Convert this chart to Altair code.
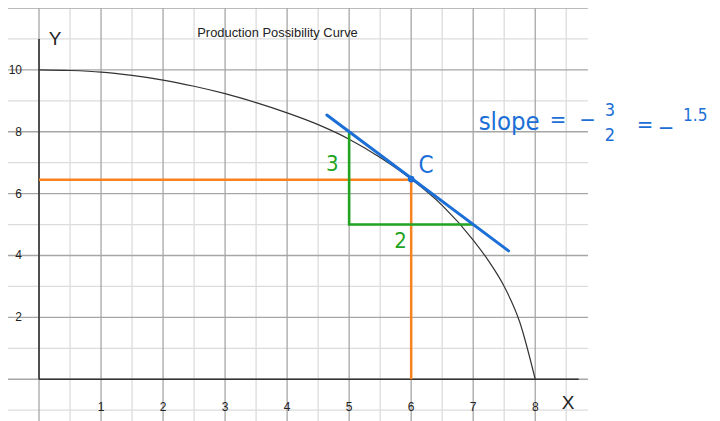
import altair as alt
import pandas as pd

# ---------------- data ----------------
curve_x = [0, 0.5, 1, 1.5, 2, 2.5, 3, 3.5, 4, 4.5, 5, 5.5, 6, 6.5, 7, 7.25, 7.5, 7.75, 8]
curve_y = [10, 9.98, 9.93, 9.82, 9.67, 9.47, 9.23, 8.94, 8.61, 8.23, 7.76, 7.17, 6.47, 5.62, 4.5, 3.82, 3.0, 1.85, 0]

x_ticks = [1, 2, 3, 4, 5, 6, 7, 8]
y_ticks = [2, 4, 6, 8, 10]

grid_major_x = [0, 1, 2, 3, 4, 5, 6, 7, 8]
grid_minor_x = [0.5, 1.5, 2.5, 3.5, 4.5, 5.5, 6.5, 7.5, 8.5]
grid_major_y = [0, 2, 4, 6, 8, 10, 12]
grid_minor_y = [-1, 1, 3, 5, 7, 9, 11]
grid_x_start = -0.5
grid_x_end = 8.85

axis_x_end = 8.7
axis_y_end = 11

point_c = (6, 6.47)
orange_x = [0, 6, 6]
orange_y = [6.45, 6.45, 0]
green_x = [5, 5, 7]
green_y = [8, 5, 5]
tangent_x = [4.64, 7.57]
tangent_y = [8.54, 4.15]

title_text = "Production Possibility Curve"

# ---------------- scales ----------------
xs = alt.Scale(domain=[-0.5, 10.85], nice=False, zero=False)
ys = alt.Scale(domain=[-1.35, 12], nice=False, zero=False)


def X(f):
    return alt.X(f, type="quantitative", scale=xs, axis=None)


def Y(f):
    return alt.Y(f, type="quantitative", scale=ys, axis=None)


MAJOR = "#a6a6a6"
MINOR = "#dcdcdc"

layers = []

# grid
layers.append(alt.Chart(pd.DataFrame({"x": grid_minor_x})).mark_rule(color=MINOR, strokeWidth=1.3).encode(x=X("x")))
layers.append(alt.Chart(pd.DataFrame({"y": grid_minor_y, "x0": grid_x_start, "x1": grid_x_end}))
              .mark_rule(color=MINOR, strokeWidth=1.3).encode(y=Y("y"), x=X("x0"), x2="x1"))
layers.append(alt.Chart(pd.DataFrame({"x": grid_major_x})).mark_rule(color=MAJOR, strokeWidth=1.3).encode(x=X("x")))
layers.append(alt.Chart(pd.DataFrame({"y": grid_major_y, "x0": grid_x_start, "x1": grid_x_end}))
              .mark_rule(color=MAJOR, strokeWidth=1.3).encode(y=Y("y"), x=X("x0"), x2="x1"))

# axes lines
layers.append(alt.Chart(pd.DataFrame({"x": [0], "y0": [0], "y1": [axis_y_end]}))
              .mark_rule(color="#333333", strokeWidth=1.6).encode(x=X("x"), y=Y("y0"), y2="y1"))
layers.append(alt.Chart(pd.DataFrame({"y": [0], "x0": [0], "x1": [axis_x_end]}))
              .mark_rule(color="#333333", strokeWidth=1.6).encode(y=Y("y"), x=X("x0"), x2="x1"))

# PPC curve
layers.append(alt.Chart(pd.DataFrame({"x": curve_x, "y": curve_y}))
              .mark_line(color="#333333", strokeWidth=1.2, interpolate="monotone")
              .encode(x=X("x"), y=Y("y"), order="x:Q"))

# orange guides
layers.append(alt.Chart(pd.DataFrame({"x": orange_x, "y": orange_y, "o": [0, 1, 2]}))
              .mark_line(color="#f7821f", strokeWidth=2.5)
              .encode(x=X("x"), y=Y("y"), order="o:Q"))

# green triangle
layers.append(alt.Chart(pd.DataFrame({"x": green_x, "y": green_y, "o": [0, 1, 2]}))
              .mark_line(color="#22a322", strokeWidth=2.6)
              .encode(x=X("x"), y=Y("y"), order="o:Q"))

# tangent
layers.append(alt.Chart(pd.DataFrame({"x": tangent_x, "y": tangent_y}))
              .mark_line(color="#1b6fd6", strokeWidth=3, strokeCap="round")
              .encode(x=X("x"), y=Y("y")))

# point C
layers.append(alt.Chart(pd.DataFrame({"x": [point_c[0]], "y": [point_c[1]]}))
              .mark_circle(color="#1b6fd6", size=45, opacity=1)
              .encode(x=X("x"), y=Y("y")))

# tick labels
layers.append(alt.Chart(pd.DataFrame({"x": x_ticks, "y": -0.91, "t": [str(v) for v in x_ticks]}))
              .mark_text(fontSize=12, color="#222222", font="Liberation Sans", baseline="middle", align="center")
              .encode(x=X("x"), y=Y("y"), text="t:N"))
layers.append(alt.Chart(pd.DataFrame({"x": -0.274, "y": y_ticks, "t": [str(v) for v in y_ticks]}))
              .mark_text(fontSize=12, color="#222222", font="Liberation Sans", baseline="middle", align="right")
              .encode(x=X("x"), y=Y("y"), text="t:N"))

# axis names and title
layers.append(alt.Chart(pd.DataFrame({"x": [0.258, 8.53], "y": [11.01, -0.766], "t": ["Y", "X"]}))
              .mark_text(fontSize=19, color="#222222", font="Liberation Sans", baseline="middle", align="center")
              .encode(x=X("x"), y=Y("y"), text="t:N"))
layers.append(alt.Chart(pd.DataFrame({"x": [3.845], "y": [11.19], "t": [title_text]}))
              .mark_text(fontSize=12.9, color="#222222", font="Liberation Sans", baseline="middle", align="center")
              .encode(x=X("x"), y=Y("y"), text="t:N"))

HAND = "Liberation Sans Narrow, DejaVu Sans Condensed, Roboto, sans-serif"

# green labels
layers.append(alt.Chart(pd.DataFrame({"x": [4.73, 5.83], "y": [6.96, 4.47], "t": ["3", "2"]}))
              .mark_text(fontSize=22, color="#22a322", font=HAND, baseline="middle", align="center")
              .encode(x=X("x"), y=Y("y"), text="t:N"))

# C label
layers.append(alt.Chart(pd.DataFrame({"x": [6.24], "y": [6.89], "t": ["C"]}))
              .mark_text(fontSize=24, color="#1b6fd6", font=HAND, baseline="middle", align="center")
              .encode(x=X("x"), y=Y("y"), text="t:N"))

# slope annotation
layers.append(alt.Chart(pd.DataFrame({"x": [7.58], "y": [8.057], "t": ["slope"]}))
              .mark_text(fontSize=25.5, color="#1b6fd6", font=HAND, baseline="alphabetic", align="center")
              .encode(x=X("x"), y=Y("y"), text="t:N"))
layers.append(alt.Chart(pd.DataFrame({"x": [8.367, 8.843, 9.770, 10.108], "y": [8.38, 8.38, 8.22, 8.12],
                                      "t": ["=", "−", "=", "−"]}))
              .mark_text(fontSize=22, color="#1b6fd6", font=HAND, baseline="middle", align="center")
              .encode(x=X("x"), y=Y("y"), text="t:N"))
layers.append(alt.Chart(pd.DataFrame({"x": [9.205, 9.205], "y": [8.67, 7.85], "t": ["3", "2"]}))
              .mark_text(fontSize=18, color="#1b6fd6", font=HAND, baseline="middle", align="center")
              .encode(x=X("x"), y=Y("y"), text="t:N"))
layers.append(alt.Chart(pd.DataFrame({"x": [10.58], "y": [8.5], "t": ["1.5"]}))
              .mark_text(fontSize=17, color="#1b6fd6", font=HAND, baseline="middle", align="center")
              .encode(x=X("x"), y=Y("y"), text="t:N"))

chart = alt.layer(*layers).properties(
    width=704, height=413, padding=0,
    autosize=alt.AutoSizeParams(type="none"),
    background="white",
).configure_view(stroke=None)

chart.save("out.html", embed_options={"renderer": "svg", "actions": False})
